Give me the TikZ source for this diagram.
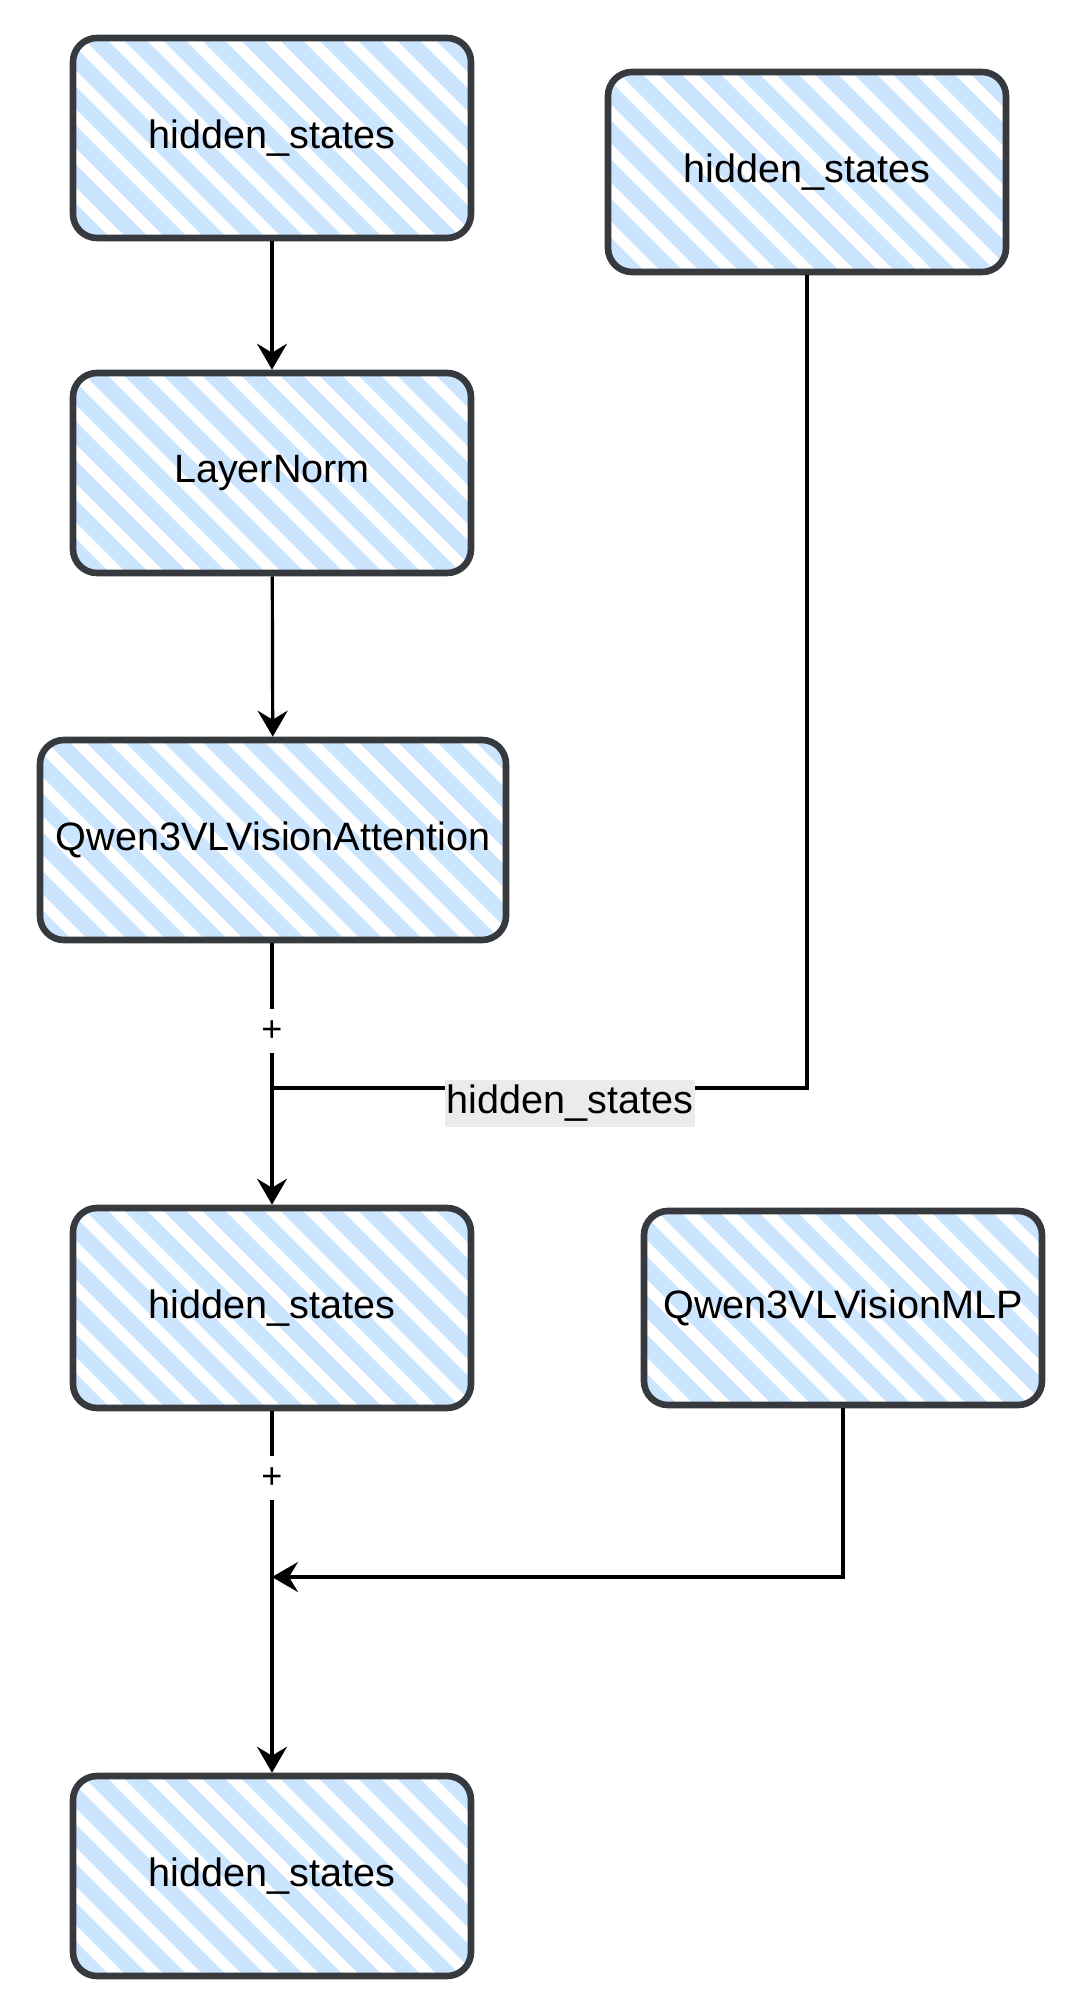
\documentclass[tikz,border=0pt]{standalone}
\usepackage{fontspec}
\setmainfont{Liberation Sans}
\usetikzlibrary{arrows.meta}
\definecolor{boxline}{HTML}{36393D}
\definecolor{hatchblue}{HTML}{CCE5FF}
\definecolor{labelgray}{HTML}{EBEBEB}
\tikzset{
  sketchbox/.style={draw=boxline, line width=3.3pt, rounded corners=12pt,
    minimum width=199pt, minimum height=100pt, inner sep=0pt,
    font=\fontsize{19.8pt}{23pt}\selectfont, text=black,
    path picture={\foreach \i in {-11,...,11}{\draw[hatchblue, line width=8pt, line cap=round]
      ([xshift=\i*19.5pt]path picture bounding box.center) ++(-130pt,130pt) -- ++(260pt,-260pt);}}},
  widebox/.style={minimum width=233pt},
  conn/.style={line width=1.6pt, draw=black},
  arr/.style={conn, -{Stealth[length=13pt, width=15pt, inset=4.5pt]}},
  pluslabel/.style={fill=white, inner xsep=1pt, inner ysep=0pt, minimum height=22pt,
    font=\fontsize{18pt}{21pt}\selectfont},
  edgelabel/.style={fill=labelgray, inner xsep=1pt, inner ysep=0pt, minimum height=23.5pt,
    font=\fontsize{19.8pt}{23pt}\selectfont}
}
\begin{document}
\begin{tikzpicture}[x=0.5pt, y=-0.5pt]
\useasboundingbox (0,0) rectangle (1080,2016);
\node[sketchbox] (hs1) at (272,138) {hidden\_states};
\node[sketchbox] (hs2) at (807,172) {hidden\_states};
\node[sketchbox] (ln) at (272,473) {LayerNorm};
\node[sketchbox, widebox] (att) at (273,840) {Qwen3VLVisionAttention};
\node[sketchbox] (hsm) at (272,1308) {hidden\_states};
\node[sketchbox, minimum height=97pt] (mlp) at (843,1308) {Qwen3VLVisionMLP};
\node[sketchbox] (hsb) at (272,1876) {hidden\_states};

\draw[arr] (hs1) -- (ln);
\draw[arr] (ln) -- (att);
\draw[arr] (att.south -| hsm.north) -- node[pluslabel, pos=0.336] (plus1) {+} (hsm.north);
\draw[arr] (hsm) -- node[pluslabel, pos=0.185] (plus2) {+} (hsb);

\coordinate (join1) at (272,1088);
\draw[conn] (hs2.south) |- (join1);
\node[edgelabel] (lab1) at (570,1103) {hidden\_states};

\coordinate (join2) at (272,1577);
\draw[arr] (mlp.south) |- (join2);
\end{tikzpicture}
\end{document}
